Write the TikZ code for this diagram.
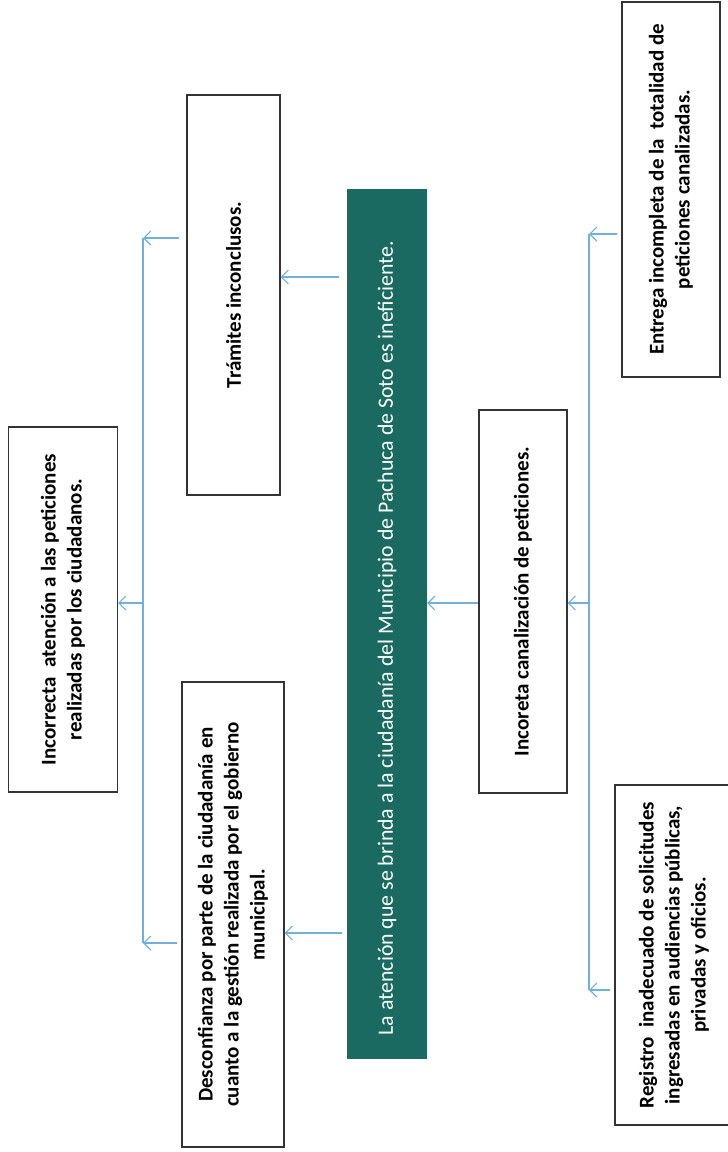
\documentclass[tikz,border=0pt]{standalone}
\usepackage{fontspec}
\setmainfont{Carlito}
\usetikzlibrary{arrows.meta}
\definecolor{bandteal}{HTML}{1B6A61}
\definecolor{linkblue}{HTML}{72B0DC}
\definecolor{boxline}{HTML}{333333}
\tikzset{
  effectbox/.style={draw=boxline,line width=1.2pt,fill=white,rotate=90,align=center,
    inner sep=0pt,font=\bfseries\fontsize{21}{26}\selectfont},
  problembar/.style={fill=bandteal,text=white,rotate=90,inner sep=0pt,
    font=\fontsize{21.8}{26}\selectfont},
  link/.style={draw=linkblue,line width=1.1pt,-{Straight Barb[length=7pt,width=14pt]}},
  busline/.style={draw=linkblue,line width=1.1pt}
}

\begin{document}
\begin{tikzpicture}[x=1pt,y=-1pt]
\useasboundingbox[fill=white] (0,0) rectangle (728,1152);

% problema central
\node[problembar,minimum width=870,minimum height=80] (problema) at (387,624)
  {La atención que se brinda a la ciudadanía del Municipio de Pachuca de Soto es ineficiente.\hspace*{28pt}};

% efectos
\node[effectbox,minimum width=400,minimum height=93] (tramites) at (233.5,295)
  {Trámites inconclusos.};
\node[effectbox,minimum width=465,minimum height=102] (desconfianza) at (233,914.5)
  {Desconfianza por parte de la ciudadanía en\\cuanto a la gestión realizada por el gobierno\\municipal.};
\node[effectbox,minimum width=365,minimum height=109] (incorrecta) at (63,609.5)
  {Incorrecta~ atención a las peticiones\\realizadas por los ciudadanos.};

% causas
\node[effectbox,minimum width=383,minimum height=88] (canalizacion) at (523,601.5)
  {Incoreta canalización de peticiones.};
\node[effectbox,minimum width=375,minimum height=98] (entrega) at (671,189.5)
  {Entrega incompleta de la~ totalidad de\\peticiones canalizadas.};
\node[effectbox,minimum width=340,minimum height=118] (registro) at (674,955)
  {Registro~ inadecuado de solicitudes\\ingresadas en audiencias públicas,\\privadas y oficios.};

% buses
\coordinate (lbtop) at (143,238);
\coordinate (lbmid) at (143,603);
\coordinate (lbbot) at (143,943);
\coordinate (rbtop) at (589,234);
\coordinate (rbmid) at (589,603);
\coordinate (rbbot) at (589,990);

\draw[busline] (lbtop) -- (lbbot);
\draw[busline] (rbtop) -- (rbbot);

\draw[link,shorten <=7pt] (tramites.north |- lbtop) -- (lbtop);
\draw[link,shorten <=4pt] (desconfianza.north |- lbbot) -- (lbbot);
\draw[link] (lbmid) -- (incorrecta.south |- lbmid);
\draw[link,shorten <=8pt] (problema.north |- 0,277) -- (tramites.south |- 0,277);
\draw[link,shorten <=5pt] (problema.north |- 0,933) -- (desconfianza.south |- 0,933);
\draw[link] (canalizacion.north |- 0,603) -- (problema.south |- 0,603);
\draw[link,shorten <=4pt] (entrega.north |- rbtop) -- (rbtop);
\draw[link,shorten <=4pt] (registro.north |- rbbot) -- (rbbot);
\draw[link] (rbmid) -- (canalizacion.south |- rbmid);
\end{tikzpicture}
\end{document}
